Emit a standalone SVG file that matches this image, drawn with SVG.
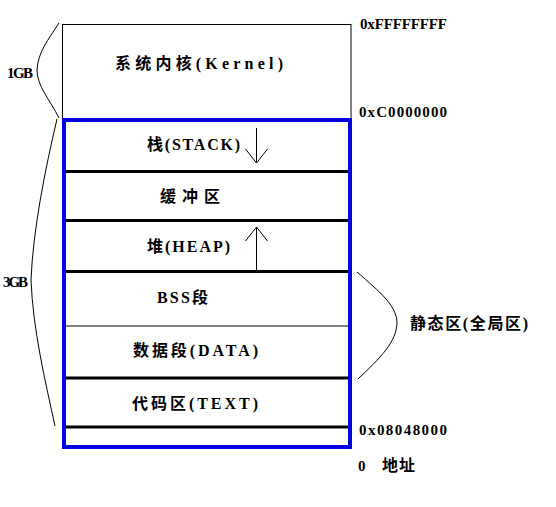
<svg xmlns="http://www.w3.org/2000/svg" width="556" height="507" viewBox="0 0 556 507">
<style>
text{font-family:"Liberation Serif","Noto Sans CJK SC",serif;font-size:16px;font-weight:bold;fill:#000}
.addr{font-size:15px}
.thick{stroke:#000;stroke-width:3;fill:none}
.thin{stroke:#000;stroke-width:1;fill:none}
.brace{stroke:#000;stroke-width:1;fill:none}
</style>
<defs>
<marker id="v" viewBox="0 0 14 24" refX="14" refY="12" markerWidth="14" markerHeight="24" markerUnits="userSpaceOnUse" orient="auto">
<path d="M0,1 L14,12 L0,23" fill="none" stroke="#000" stroke-width="1"/>
</marker>
</defs>
<rect width="556" height="507" fill="#fff"/>
<g id="kernel">
<rect x="62.5" y="24.5" width="288.5" height="95" class="thin"/>
<text x="115" y="69" textLength="168" lengthAdjust="spacing">系统内核(Kernel)</text>
</g>
<g id="segments">
<line x1="62" y1="171.5" x2="351" y2="171.5" class="thick"/>
<line x1="62" y1="220.5" x2="351" y2="220.5" class="thick"/>
<line x1="62" y1="271.5" x2="351" y2="271.5" class="thick"/>
<line x1="62" y1="326" x2="351" y2="326" class="thin"/>
<line x1="62" y1="378" x2="351" y2="378" class="thick"/>
<line x1="62" y1="427" x2="351" y2="427" class="thick"/>
</g>
<g id="userspace">
<rect x="64" y="120" width="286" height="327" fill="none" stroke="#0000e0" stroke-width="4"/>
</g>
<g id="stack"><text x="147" y="150" textLength="93" lengthAdjust="spacing">栈(STACK)</text></g>
<g id="buffer"><text x="160" y="202" textLength="60" lengthAdjust="spacing">缓冲区</text></g>
<g id="heap"><text x="147" y="252" textLength="83" lengthAdjust="spacing">堆(HEAP)</text></g>
<g id="bss"><text x="157" y="303" textLength="51" lengthAdjust="spacing">BSS段</text></g>
<g id="data"><text x="133" y="356" textLength="125" lengthAdjust="spacing">数据段(DATA)</text></g>
<g id="textseg"><text x="132" y="409" textLength="126" lengthAdjust="spacing">代码区(TEXT)</text></g>
<g id="connectors">
<line x1="256.5" y1="128" x2="256.5" y2="163" class="thin" marker-end="url(#v)"/>
<line x1="256.5" y1="271" x2="256.5" y2="227" class="thin" marker-end="url(#v)"/>
<path class="brace" d="M59,23 C48,40 38,52 37,70 C37,86 50,100 59,118"/>
<path class="brace" d="M57,119 C45,170 33,230 31,280 C33,330 45,380 55,426"/>
<path class="brace" d="M357,272 C380,292 396,305 397,322 C397,342 380,358 358,379"/>
</g>
<g id="labels">
<text class="addr" x="360" y="29" textLength="87" lengthAdjust="spacing">0xFFFFFFFF</text>
<text class="addr" x="359" y="117" textLength="88" lengthAdjust="spacing">0xC0000000</text>
<text class="addr" x="359" y="435" textLength="88" lengthAdjust="spacing">0x08048000</text>
<text class="addr" x="358" y="471">0</text>
<text x="382" y="471" textLength="33" lengthAdjust="spacing">地址</text>
<text x="410" y="329" textLength="118" lengthAdjust="spacing">静态区(全局区)</text>
<text class="addr" x="7" y="78" textLength="26" lengthAdjust="spacing">1GB</text>
<text class="addr" x="3" y="287" textLength="25" lengthAdjust="spacing">3GB</text>
</g>
</svg>
